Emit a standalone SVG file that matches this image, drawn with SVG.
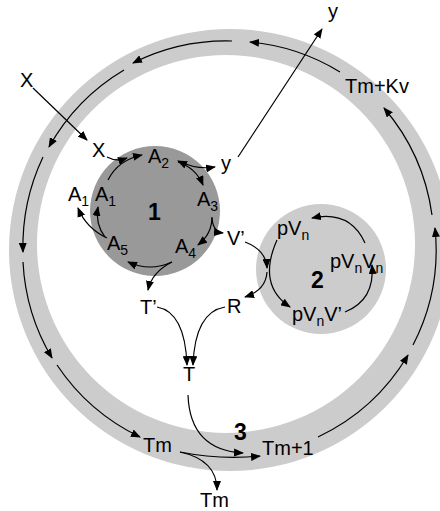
<svg xmlns="http://www.w3.org/2000/svg" width="440" height="511" viewBox="0 0 440 511">
<style>
text{font-family:"Liberation Sans",Arial,sans-serif;font-size:20px;fill:#000}
.b{font-weight:bold;font-size:23px}
.s{font-size:14px}
.c path,.c line{fill:none;stroke:#000;stroke-width:1.2}
</style>
<defs>
<marker id="ah" markerUnits="userSpaceOnUse" markerWidth="10" markerHeight="8" refX="9" refY="4" orient="auto-start-reverse">
<path d="M0,0 L10,4 L0,8 z" fill="#000"/>
</marker>
</defs>
<rect width="440" height="511" fill="#fff"/>
<g id="ring3">
<path d="M9,250 A221,221 0 1,0 451,250 A221,221 0 1,0 9,250 Z M37,244 A189,189 0 1,1 415,244 A189,189 0 1,1 37,244 Z" fill="#cccccc" fill-rule="evenodd"/>
</g>
<g id="cell1"><circle cx="155" cy="211" r="65" fill="#999999"/></g>
<g id="cell2"><circle cx="321" cy="269" r="65" fill="#cccccc"/></g>
<g class="c" id="connectors" marker-end="url(#ah)">
<path d="M232,41 A208,208 0 0,0 133,63"/>
<path d="M340,72 A208,208 0 0,0 250,42"/>
<path d="M432,215 A208,208 0 0,0 384,108"/>
<path d="M413,345 A208,208 0 0,0 435,228"/>
<path d="M318,437 A208,208 0 0,0 408,355"/>
<path d="M124,70 A208,208 0 0,0 49,147"/>
<path d="M43,157 A208,208 0 0,0 23,252"/>
<path d="M23,262 A208,208 0 0,0 52,358"/>
<path d="M57,365 A208,208 0 0,0 140,437"/>
<line x1="33" y1="88" x2="87" y2="140"/>
<line x1="238" y1="157" x2="322" y2="29"/>
<path d="M107,157 Q116,162 127,158"/>
<path d="M108,180 Q118,160 142,155"/>
<path d="M178,161 Q197,170 215,167" marker-start="url(#ah)"/>
<path d="M178,162 Q196,168 203,185"/>
<path d="M212,217 Q212,234 198,245"/>
<path d="M212,218 Q213,232 223,233"/>
<path d="M172,262 Q150,272 128,262"/>
<path d="M172,262 Q152,272 148,290"/>
<path d="M105,237 Q95,224 98,207"/>
<path d="M107,238 Q86,228 78,208"/>
<path d="M245,242 Q266,250 267,268"/>
<path d="M267,272 Q266,290 245,297"/>
<path d="M277,240 Q257,285 290,307"/>
<path d="M345,312 Q375,300 372,265"/>
<path d="M365,243 Q350,210 312,218"/>
<path d="M157,307 Q185,312 187,365"/>
<path d="M225,307 Q195,312 193,365"/>
<path d="M188,395 Q190,450 243,453"/>
<path d="M180,452 Q220,460 260,456"/>
<path d="M180,452 Q217,460 217,490"/>
</g>
<g id="labels">
<text x="20" y="87">X</text>
<text x="92" y="157">X</text>
<text x="148" y="163">A<tspan class="s" dy="5">2</tspan></text>
<text x="221" y="170">y</text>
<text x="328" y="18">y</text>
<text x="345" y="93">Tm+Kv</text>
<text x="197" y="206">A<tspan class="s" dy="5">3</tspan></text>
<text class="b" x="148" y="220">1</text>
<text x="68" y="201">A<tspan class="s" dy="5">1</tspan></text>
<text x="95" y="201">A<tspan class="s" dy="5">1</tspan></text>
<text x="107" y="250">A<tspan class="s" dy="5">5</tspan></text>
<text x="175" y="253">A<tspan class="s" dy="5">4</tspan></text>
<text x="227" y="245">V’</text>
<text x="140" y="314">T’</text>
<text x="227" y="313">R</text>
<text x="183" y="381">T</text>
<text class="b" x="234" y="440">3</text>
<text x="143" y="452">Tm</text>
<text x="262" y="455">Tm+1</text>
<text x="200" y="507">Tm</text>
<text x="277" y="235">pV<tspan class="s" dy="5">n</tspan></text>
<text class="b" x="311" y="288">2</text>
<text x="330" y="268">pV<tspan class="s" dy="5">n</tspan><tspan dy="-5">V</tspan><tspan class="s" dy="5">n</tspan></text>
<text x="292" y="321">pV<tspan class="s" dy="5">n</tspan><tspan dy="-5">V’</tspan></text>
</g>
</svg>
